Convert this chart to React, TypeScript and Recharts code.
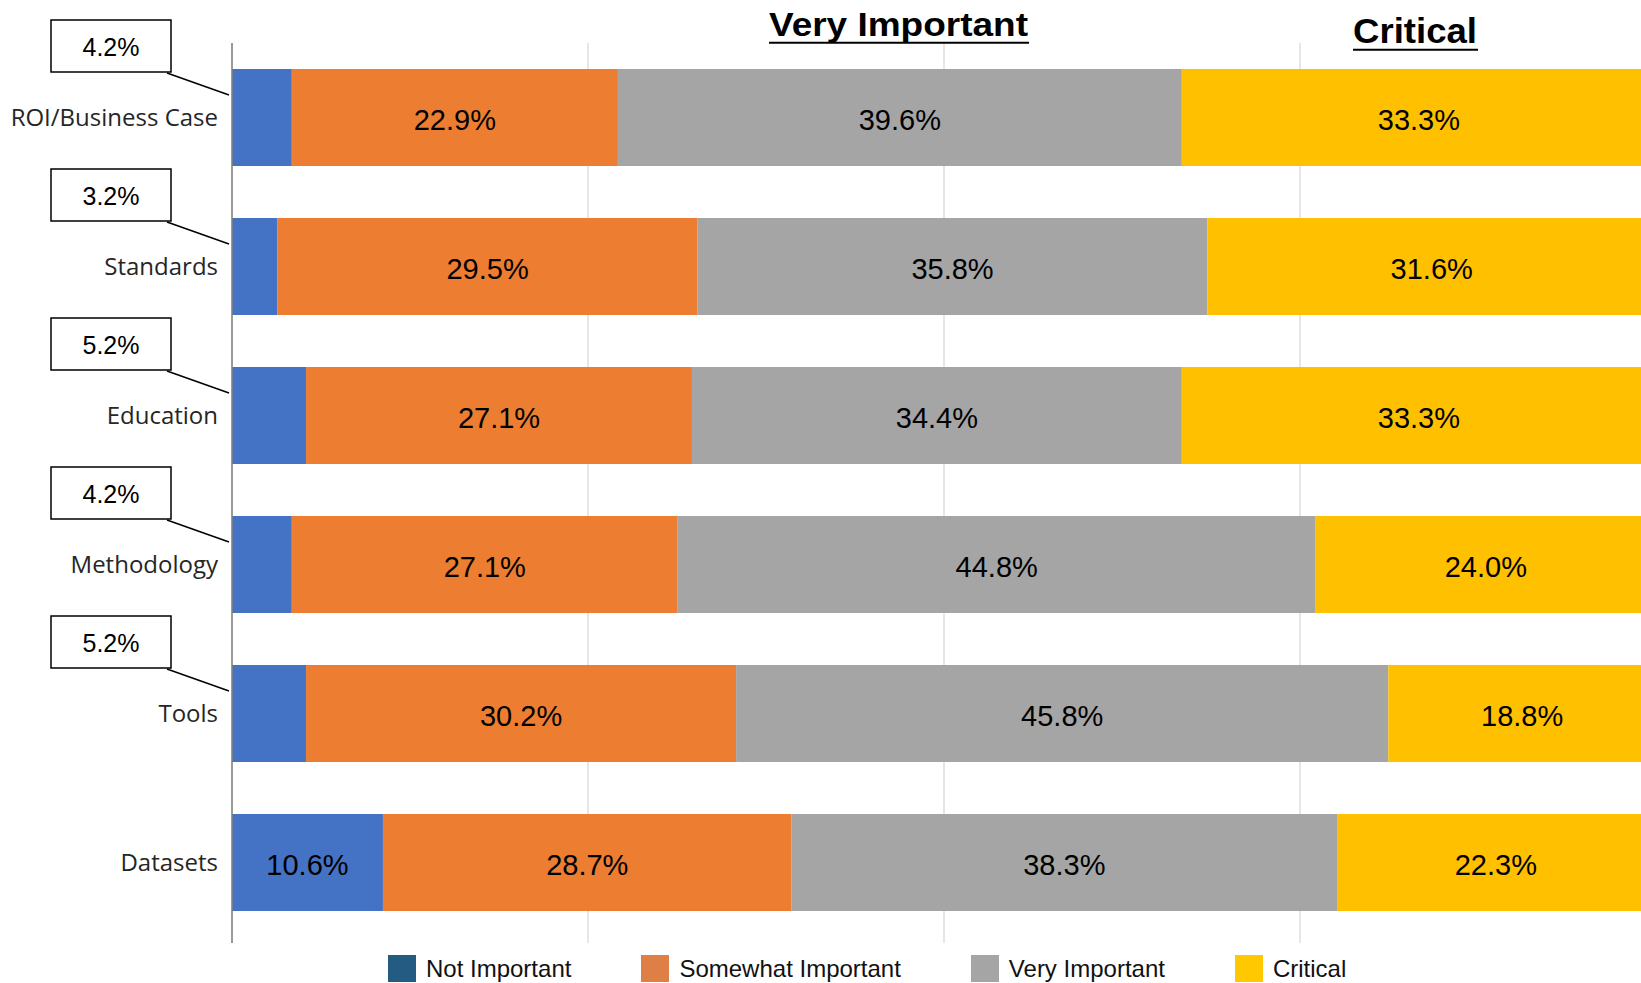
import React from 'react';
import {
  BarChart,
  Bar,
  XAxis,
  YAxis,
  CartesianGrid,
  Legend,
  LabelList,
} from 'recharts';

const categories = ['ROI/Business Case', 'Standards', 'Education', 'Methodology', 'Tools', 'Datasets'];
const notImportant = [4.2, 3.2, 5.2, 4.2, 5.2, 10.6];
const somewhatImportant = [22.9, 29.5, 27.1, 27.1, 30.2, 28.7];
const veryImportant = [39.6, 35.8, 34.4, 44.8, 45.8, 38.3];
const critical = [33.3, 31.6, 33.3, 24.0, 18.8, 22.3];
const xTicks = [0, 25, 50, 75, 100];

const seriesKeys = ['notImportant', 'somewhatImportant', 'veryImportant', 'critical'];
const seriesNames = ['Not Important', 'Somewhat Important', 'Very Important', 'Critical'];
const barColors = ['#4472C4', '#ED7D31', '#A5A5A5', '#FFC000'];
const legendColors = ['#235B82', '#E07F45', '#A5A5A5', '#FFC800'];

const data = categories.map((name, i) => ({
  name,
  notImportant: notImportant[i],
  somewhatImportant: somewhatImportant[i],
  veryImportant: veryImportant[i],
  critical: critical[i],
}));

const labelFont = 'Liberation Sans, Arial, sans-serif';

// centred value label inside a segment
const CenterLabel = (props: any) => {
  const { x, y, width, height, value } = props;
  return (
    <text
      x={x + width / 2}
      y={y + height / 2 + 12}
      textAnchor="middle"
      fontSize={29}
      fontFamily={labelFont}
      fill="#000"
    >
      {Number(value).toFixed(1)}%
    </text>
  );
};

// small values get a boxed callout to the left of the axis
const NotImportantLabel = (props: any) => {
  const { x, y, value } = props;
  if (value >= 8) return <CenterLabel {...props} />;
  const bx = x - 181;
  const by = y - 49;
  return (
    <g>
      <rect x={bx} y={by} width={120} height={52} fill="#fff" stroke="#000" strokeWidth={1.5} />
      <text x={bx + 60} y={by + 36} textAnchor="middle" fontSize={25} fontFamily={labelFont} fill="#000">
        {Number(value).toFixed(1)}%
      </text>
      <line x1={bx + 116} y1={by + 53} x2={x - 3} y2={y + 26} stroke="#000" strokeWidth={1.5} />
    </g>
  );
};

const renderLegend = () => (
  <div style={{ display: 'flex', alignItems: 'center', fontFamily: labelFont, fontSize: 24, color: '#111' }}>
    {seriesNames.map((name, i) => (
      <div key={name} style={{ display: 'flex', alignItems: 'center', marginRight: 70 }}>
        <span style={{ display: 'inline-block', width: 28, height: 27, background: legendColors[i], marginRight: 10 }} />
        <span style={{ lineHeight: '27px', whiteSpace: 'nowrap' }}>{name}</span>
      </div>
    ))}
  </div>
);

export default function App() {
  return (
    <div style={{ position: 'fixed', left: 0, top: 0, width: 1641, height: 983, overflow: 'hidden', background: '#fff' }}>
      <BarChart
        width={1656}
        height={983}
        data={data}
        layout="vertical"
        margin={{ top: 43, right: 0, bottom: 40, left: 0 }}
        barSize={97}
      >
        <CartesianGrid horizontal={false} stroke="#D9D9D9" strokeWidth={1.3} />
        <XAxis type="number" domain={[0, 100]} ticks={xTicks} hide allowDataOverflow />
        <YAxis
          type="category"
          dataKey="name"
          width={232}
          tickLine={false}
          tickMargin={8}
          axisLine={{ stroke: '#808080', strokeWidth: 1.5 }}
          padding={{ top: 0, bottom: 6 }}
          tick={{ fill: '#262626', fontSize: 24, fontFamily: 'Open Sans, sans-serif' }}
          interval={0}
        />
        <Legend
          layout="horizontal"
          verticalAlign="middle"
          align="center"
          content={renderLegend}
          wrapperStyle={{ left: 388, top: 955, width: 'auto', height: 'auto' }}
        />
        {seriesKeys.map((key, i) => (
          <Bar
            key={key}
            dataKey={key}
            name={seriesNames[i]}
            stackId="a"
            fill={barColors[i]}
            isAnimationActive={false}
          >
            <LabelList dataKey={key} content={i === 0 ? NotImportantLabel : CenterLabel} />
          </Bar>
        ))}
      </BarChart>
      <svg
        width={1641}
        height={983}
        style={{ position: 'absolute', left: 0, top: 0, pointerEvents: 'none' }}
      >
        <text x={769} y={36} fontSize={33} fontWeight="bold" fontFamily={labelFont} textLength={259} lengthAdjust="spacingAndGlyphs" fill="#000">
          Very Important
        </text>
        <line x1={769} y1={42.7} x2={1029} y2={42.7} stroke="#000" strokeWidth={2} />
        <text x={1353} y={43} fontSize={35} fontWeight="bold" fontFamily={labelFont} textLength={124} lengthAdjust="spacingAndGlyphs" fill="#000">
          Critical
        </text>
        <line x1={1353} y1={49.8} x2={1478} y2={49.8} stroke="#000" strokeWidth={2} />
      </svg>
    </div>
  );
}
